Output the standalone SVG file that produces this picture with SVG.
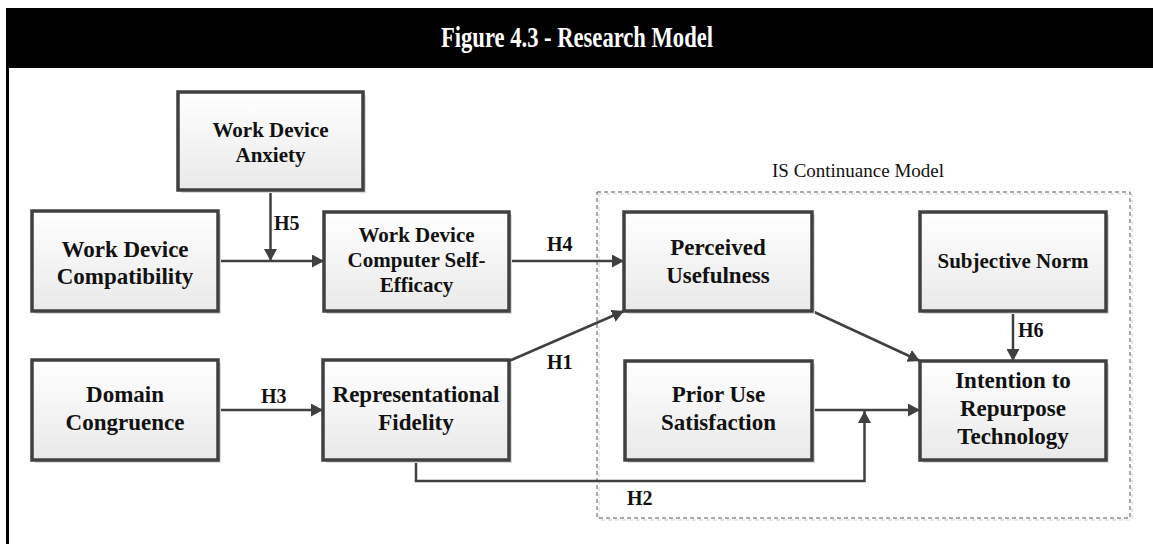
<svg xmlns="http://www.w3.org/2000/svg" width="1153" height="544" viewBox="0 0 1153 544">
  <style>
    .box { fill: url(#boxFill); stroke: #404040; stroke-width: 3.5; }
    .shadow { fill: #dadada; }
    .lbl { font-family: "Liberation Serif", "Times New Roman", serif; font-weight: bold; fill: #111; text-anchor: middle; }
    .hyp { font-family: "Liberation Serif", "Times New Roman", serif; font-weight: bold; font-size: 20px; fill: #111; }
    .wire { fill: none; stroke: #404040; stroke-width: 2.5; }
  </style>
  <defs>
    <linearGradient id="boxFill" x1="0" y1="0" x2="0" y2="1">
      <stop offset="0" stop-color="#ffffff"/>
      <stop offset="1" stop-color="#e9e9e9"/>
    </linearGradient>
    <marker id="arrow" viewBox="0 0 12 13" refX="12" refY="6.5" markerWidth="12" markerHeight="13" markerUnits="userSpaceOnUse" orient="auto">
      <path d="M0,0 L12,6.5 L0,13 Z" fill="#404040"/>
    </marker>
  </defs>

  <rect width="1153" height="544" fill="#ffffff"/>

  <!-- title bar and left frame rule -->
  <g id="title">
    <rect x="6" y="8" width="1147" height="60" fill="#000000"/>
    <line x1="7.5" y1="60" x2="7.5" y2="544" stroke="#000000" stroke-width="3"/>
    <text x="577" y="47" font-family="Liberation Serif, Times New Roman, serif" font-weight="bold" font-size="30" fill="#ffffff" text-anchor="middle" textLength="272" lengthAdjust="spacingAndGlyphs">Figure 4.3 - Research Model</text>
  </g>

  <!-- IS Continuance Model boundary -->
  <g id="is-continuance">
    <rect x="599" y="194" width="533" height="326" fill="none" stroke="#d0d0d0" stroke-width="1" stroke-dasharray="4 3"/>
    <rect x="597" y="192" width="533" height="326" fill="none" stroke="#555555" stroke-width="1" stroke-dasharray="4 3"/>
    <text x="858" y="177" font-family="Liberation Serif, Times New Roman, serif" font-size="19" fill="#111" text-anchor="middle">IS Continuance Model</text>
  </g>

  <!-- connectors -->
  <g id="connectors">
    <line class="wire" x1="218" y1="261" x2="324" y2="261" marker-end="url(#arrow)"/>
    <line class="wire" x1="270.5" y1="190" x2="270.5" y2="261" marker-end="url(#arrow)"/>
    <line class="wire" x1="509" y1="261" x2="624" y2="261" marker-end="url(#arrow)"/>
    <line class="wire" x1="509" y1="361" x2="624" y2="311" marker-end="url(#arrow)"/>
    <line class="wire" x1="218" y1="410" x2="323" y2="410" marker-end="url(#arrow)"/>
    <line class="wire" x1="812" y1="311" x2="920" y2="361" marker-end="url(#arrow)"/>
    <line class="wire" x1="1013" y1="311" x2="1013" y2="361" marker-end="url(#arrow)"/>
    <line class="wire" x1="812" y1="410" x2="920" y2="410" marker-end="url(#arrow)"/>
    <path class="wire" d="M416,460 V481 H864.5 V411" marker-end="url(#arrow)"/>
    <text class="hyp" x="274" y="230">H5</text>
    <text class="hyp" x="547" y="251">H4</text>
    <text class="hyp" x="547" y="369">H1</text>
    <text class="hyp" x="261" y="403">H3</text>
    <text class="hyp" x="627" y="505">H2</text>
    <text class="hyp" x="1018" y="337">H6</text>
  </g>

  <g id="work-device-anxiety">
    <rect class="shadow" x="181" y="95" width="185" height="98"/>
    <rect class="box" x="178" y="92" width="185" height="98"/>
    <text class="lbl" font-size="21" x="270.5" y="137">Work Device</text>
    <text class="lbl" font-size="21" x="270.5" y="162">Anxiety</text>
  </g>

  <g id="work-device-compatibility">
    <rect class="shadow" x="35" y="214" width="186" height="100"/>
    <rect class="box" x="32" y="211" width="186" height="100"/>
    <text class="lbl" font-size="23" x="125" y="257">Work Device</text>
    <text class="lbl" font-size="23" x="125" y="284">Compatibility</text>
  </g>

  <g id="computer-self-efficacy">
    <rect class="shadow" x="327" y="215" width="185" height="99"/>
    <rect class="box" x="324" y="212" width="185" height="99"/>
    <text class="lbl" font-size="21" x="416.5" y="242">Work Device</text>
    <text class="lbl" font-size="21" x="416.5" y="267">Computer Self-</text>
    <text class="lbl" font-size="21" x="416.5" y="292">Efficacy</text>
  </g>

  <g id="perceived-usefulness">
    <rect class="shadow" x="627" y="215" width="188" height="99"/>
    <rect class="box" x="624" y="212" width="188" height="99"/>
    <text class="lbl" font-size="23" x="718" y="255">Perceived</text>
    <text class="lbl" font-size="23" x="718" y="283">Usefulness</text>
  </g>

  <g id="subjective-norm">
    <rect class="shadow" x="923" y="215" width="186" height="99"/>
    <rect class="box" x="920" y="212" width="186" height="99"/>
    <text class="lbl" font-size="21" x="1013" y="268">Subjective Norm</text>
  </g>

  <g id="domain-congruence">
    <rect class="shadow" x="35" y="363" width="186" height="100"/>
    <rect class="box" x="32" y="360" width="186" height="100"/>
    <text class="lbl" font-size="23" x="125" y="402">Domain</text>
    <text class="lbl" font-size="23" x="125" y="430">Congruence</text>
  </g>

  <g id="representational-fidelity">
    <rect class="shadow" x="326" y="363" width="186" height="100"/>
    <rect class="box" x="323" y="360" width="186" height="100"/>
    <text class="lbl" font-size="23" x="416" y="402">Representational</text>
    <text class="lbl" font-size="23" x="416" y="430">Fidelity</text>
  </g>

  <g id="prior-use-satisfaction">
    <rect class="shadow" x="628" y="364" width="187" height="99"/>
    <rect class="box" x="625" y="361" width="187" height="99"/>
    <text class="lbl" font-size="23" x="718.5" y="402">Prior Use</text>
    <text class="lbl" font-size="23" x="718.5" y="430">Satisfaction</text>
  </g>

  <g id="intention-to-repurpose">
    <rect class="shadow" x="923" y="364" width="186" height="99"/>
    <rect class="box" x="920" y="361" width="186" height="99"/>
    <text class="lbl" font-size="23" x="1013" y="388">Intention to</text>
    <text class="lbl" font-size="23" x="1013" y="416">Repurpose</text>
    <text class="lbl" font-size="23" x="1013" y="444">Technology</text>
  </g>
</svg>
